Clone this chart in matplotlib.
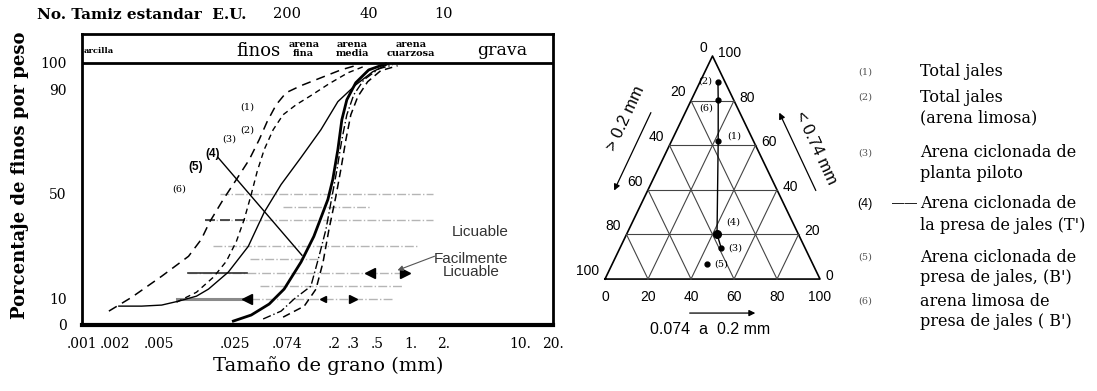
import matplotlib.pyplot as plt

W, H = 1097, 391
SERIF = 'DejaVu Serif'
SANS = 'Liberation Sans'

# ---- grain size curves: size (mm) vs percent finer by weight ----
size_1 = [0.00176, 0.00285, 0.00534, 0.00939, 0.0123, 0.0146, 0.0195, 0.0257, 0.0337,
          0.0415, 0.0491, 0.0593, 0.073, 0.100, 0.152, 0.231, 0.330]
pct_1 = [5.3, 10.6, 18.6, 26.2, 32.7, 39.2, 47.9, 55.5, 63.1, 70.7, 77.6, 84.0, 88.6,
         91.3, 94.3, 97.3, 99.2]
size_2 = [0.0073, 0.0111, 0.0159, 0.0208, 0.0257, 0.0303, 0.0351, 0.0398, 0.0461, 0.0557,
          0.0686, 0.0901, 0.123, 0.180, 0.268, 0.390]
pct_2 = [8.7, 12.5, 18.3, 24.3, 31.9, 40.3, 49.8, 58.6, 66.9, 74.5, 80.2, 84.0, 87.5,
         92.0, 96.2, 98.9]
size_3 = [0.00217, 0.00351, 0.00534, 0.00762, 0.0111, 0.0143, 0.0217, 0.0330, 0.0461,
          0.0658, 0.100, 0.152, 0.217, 0.316, 0.451, 0.631]
pct_3 = [7.2, 7.2, 7.6, 9.1, 11.0, 13.7, 20.2, 30.0, 43.0, 53.6, 63.9, 74.5, 85.2, 91.6,
         96.6, 99.6]
size_4 = [0.0241, 0.0351, 0.0512, 0.0701, 0.100, 0.131, 0.176, 0.195, 0.217, 0.236, 0.262,
          0.316, 0.415, 0.593]
pct_4 = [1.5, 3.8, 8.0, 13.7, 24.0, 33.8, 47.9, 55.5, 66.9, 78.3, 85.9, 92.4, 97.3, 99.6]
size_5 = [0.0451, 0.0658, 0.0864, 0.123, 0.146, 0.169, 0.195, 0.213, 0.236, 0.262, 0.303,
          0.374, 0.512, 0.686]
pct_5 = [2.3, 5.3, 9.9, 14.8, 26.2, 36.5, 50.6, 59.3, 70.7, 80.2, 87.8, 93.5, 97.7, 99.2]
size_6 = [0.0686, 0.107, 0.137, 0.159, 0.180, 0.208, 0.231, 0.257, 0.285, 0.330, 0.406,
          0.534, 0.762]
pct_6 = [3.0, 7.2, 13.7, 24.0, 36.5, 49.0, 59.3, 70.7, 80.2, 87.1, 92.8, 97.0, 98.9]

curve_names = ['(1)', '(2)', '(3)', '(4)', '(5)', '(6)']
name_size = [0.0321, 0.0321, 0.0220, 0.0157, 0.0110, 0.00769]
name_pct = [83.3, 74.5, 71.1, 65.4, 60.1, 51.7]

# liquefaction limit lines (percent, from size, to size)
band_pct = [50, 45, 40, 30, 25, 20, 15, 10]
band_from = [0.0182, 0.0686, 0.0133, 0.0157, 0.0342, 0.0093, 0.0423, 0.00738]
band_to = [1.60, 0.427, 1.62, 1.17, 0.149, 0.93, 0.85, 0.69]

x_ticks = [0.001, 0.002, 0.005, 0.025, 0.074, 0.2, 0.3, 0.5, 1, 2, 10, 20]
x_labels = ['.001', '.002', '.005', '.025', '.074', '.2', '.3', '.5', '1.', '2.', '10.', '20.']
y_ticks = [0, 10, 50, 90, 100]
sieve_size = [0.074, 0.42, 2.0]
sieve_no = ['200', '40', '10']

# ---- ternary: fines (<0.074), medium (0.074-0.2), rest (>0.2) in percent ----
tern_fine = [61.9, 88.3, 13.9, 20.2, 6.7, 80.3]
tern_medium = [21.7, 8.4, 47.1, 42.0, 44.1, 12.5]
tern_ticks = [0, 20, 40, 60, 80, 100]

legend_first = ['Total jales', 'Total jales', 'Arena ciclonada de', 'Arena ciclonada de',
                'Arena ciclonada de', 'arena limosa de']
legend_second = ['', '(arena limosa)', 'planta piloto', "la presa de jales (T')",
                 "presa de jales, (B')", "presa de jales ( B')"]

fig = plt.figure(figsize=(W / 100, H / 100), dpi=100)


def fx(px):
    return px / W


def fy(py):
    return 1 - py / H


## Grain size chart
ax = fig.add_axes([fx(82), fy(325), (553 - 82) / W, (325 - 34) / H])
ax.set_xscale('log')
ax.set_xlim(0.001, 20)
ax.set_ylim(0, 111)
for s in ['left', 'right', 'top']:
    ax.spines[s].set_linewidth(2)
ax.spines['bottom'].set_linewidth(3)
ax.axhline(100, color='k', lw=2)

ax.set_xticks(x_ticks)
ax.set_xticklabels(x_labels)
ax.minorticks_off()
ax.set_yticks(y_ticks)
ax.set_yticklabels([str(v) for v in y_ticks])
ax.tick_params(length=0, labelsize=10)
ax.tick_params(axis='x', pad=9)
ax.tick_params(axis='y', pad=11)
for lab in ax.get_xticklabels() + ax.get_yticklabels():
    lab.set_fontfamily(SERIF)

for p, a, b in zip(band_pct, band_from, band_to):
    ax.plot([a, b], [p, p], color='#b5b5b5', lw=1, ls='-.')
ax.plot([band_from[5], 0.032], [20, 20], color='#333333', lw=1.2)
ax.plot([band_from[2], 0.032], [40, 40], color='#333333', lw=1.2, ls=(0, (6, 3)))
ax.plot([band_from[7], 0.032], [10, 10], color='#8a8a8a', lw=2.2)
ax.plot([0.032], [10], marker='<', color='k', ms=7)
ax.plot([0.159], [10], marker='<', color='k', ms=5)
ax.plot([0.299], [10], marker='>', color='k', ms=6)
ax.plot([0.427], [20], marker='<', color='k', ms=7)
ax.plot([0.89], [20], marker='>', color='k', ms=7)

sizes = [size_1, size_2, size_3, size_4, size_5, size_6]
pcts = [pct_1, pct_2, pct_3, pct_4, pct_5, pct_6]
styles = [((0, (6, 4)), 1.1), ((0, (4, 3)), 1.0), ('-', 1.0), ('-', 2.0),
          ((0, (6, 2, 1, 2)), 1.0), ((0, (5, 3)), 1.1)]
for sx, py, (ls, lw) in zip(sizes, pcts, styles):
    ax.plot(sx, py, color='k', ls=ls, lw=lw)

ax.plot([0.01746, 0.102], [63.9, 26.6], color='k', lw=1)
for i, name in enumerate(curve_names):
    big = name in ('(4)', '(5)')
    ax.text(name_size[i], name_pct[i], name, fontsize=8.5 if big else 7,
            fontweight='bold' if big else 'normal',
            family=SANS if big else SERIF, ha='center', va='center')

ax.text(4.3, 35.4, 'Licuable', fontsize=11, family=SANS, color='#333333',
        ha='center', va='center')
ax.text(3.6, 22.8, 'Facilmente\nLicuable', fontsize=11, family=SANS, color='#333333',
        ha='center', va='center', linespacing=0.95)
ax.annotate('', xy=(0.72, 20.5), xytext=(1.75, 26.6),
            arrowprops=dict(arrowstyle='-|>', color='#555555', lw=0.8,
                            mutation_scale=8))

# header band
ax.text(0.00104, 104.5, 'arcilla', fontsize=6, fontweight='bold', family=SERIF,
        ha='left', va='center')
ax.text(0.0404, 104.6, 'finos', fontsize=13, family=SERIF, ha='center', va='center')
ax.text(6.85, 104.6, 'grava', fontsize=12.5, family=SERIF, ha='center', va='center')
for xs, lab in zip([0.106, 0.292, 1.01], ['arena\nfina', 'arena\nmedia', 'arena\ncuarzosa']):
    ax.text(xs, 105.3, lab, fontsize=7, fontweight='bold', family=SERIF,
            ha='center', va='center', linespacing=0.9)

xtr = ax.get_xaxis_transform()
for xs, lab in zip(sieve_size, sieve_no):
    ax.text(xs, 1.068, lab, transform=xtr, fontsize=10.5, family=SERIF,
            ha='center', va='center')
fig.text(fx(37), fy(15), 'No. Tamiz estandar  E.U.', fontsize=11, fontweight='bold',
         family=SERIF, ha='left', va='center')

fig.text(fx(20), fy(175), 'Porcentaje de finos por peso', rotation=90, fontsize=13,
         fontweight='bold', family=SERIF, ha='center', va='center')
fig.text(fx(328), fy(366), 'Tamaño de grano (mm)', fontsize=14, family=SERIF,
         ha='center', va='center')

## Ternary diagram
tx = fig.add_axes([fx(575), fy(345), 275 / W, 315 / H])
tx.set_xlim(-13.95, 113.95)
tx.set_ylim(-25.6, 96.7)
tx.axis('off')
h = 0.866
tx.plot([0, 100, 50, 0], [0, 0, 100 * h, 0], color='k', lw=1.2)
for v in tern_ticks[1:-1]:
    tx.plot([0.5 * v, 100 - 0.5 * v], [h * v, h * v], color='#444444', lw=0.8)
    tx.plot([v, v + 0.5 * (100 - v)], [0, h * (100 - v)], color='#444444', lw=0.8)
    tx.plot([100 - v, 0.5 * (100 - v)], [0, h * (100 - v)], color='#444444', lw=0.8)

for v in tern_ticks:
    # left side: coarse fraction, 0 at apex
    tx.text(0.5 * (100 - v) - 2.5, h * (100 - v) + 0.5, str(v), fontsize=10, family=SANS,
            ha='right', va='bottom')
    # right side: fines, 100 at apex
    tx.text(100 - 0.5 * v + 2.5, h * v + 1.2, str(v), fontsize=10, family=SANS,
            ha='left', va='center')
    # base: medium sand
    tx.text(v, -7.0, str(v), fontsize=10, family=SANS, ha='center', va='center')

pts_x = [m + 0.5 * f for f, m in zip(tern_fine, tern_medium)]
pts_y = [h * f for f in tern_fine]
order = [1, 5, 0, 3, 2]
tx.plot([pts_x[i] for i in order], [pts_y[i] for i in order], color='k', lw=1)
tx.plot(pts_x, pts_y, 'o', color='k', ms=3.5)
tx.plot([pts_x[3]], [pts_y[3]], 'o', color='k', ms=5.5)
lab_dx = [4, -2.5, 3.5, 4.5, 3.5, -2.5]
lab_dy = [2, 0.5, 0, 4.5, 0, -3]
for i, name in enumerate(curve_names):
    tx.text(pts_x[i] + lab_dx[i], pts_y[i] + lab_dy[i], name, fontsize=7, family=SERIF,
            ha='left' if lab_dx[i] > 0 else 'right', va='center')

tx.text(9.8, 62.5, '> 0.2 mm', rotation=65, fontsize=12, family=SANS,
        ha='center', va='center', rotation_mode='anchor')
tx.annotate('', xy=(3.7, 33.4), xytext=(21.9, 65.6),
            arrowprops=dict(arrowstyle='-|>', color='k', lw=0.9, mutation_scale=9))
tx.text(98.2, 50.9, '< 0.74 mm', rotation=-65, fontsize=12, family=SANS,
        ha='center', va='center', rotation_mode='anchor')
tx.annotate('', xy=(80.5, 65.6), xytext=(98.6, 33.4),
            arrowprops=dict(arrowstyle='-|>', color='k', lw=0.9, mutation_scale=9))
tx.annotate('', xy=(71.2, -13.2), xytext=(38.1, -13.2),
            arrowprops=dict(arrowstyle='-|>', color='k', lw=0.9, mutation_scale=9))
tx.text(48.8, -19.5, '0.074  a  0.2 mm', fontsize=11.5, family=SANS, ha='center',
        va='center')

## Legend
num_y = [72, 97, 153, 204, 257, 301]
for i, name in enumerate(curve_names):
    if name == '(4)':
        fig.text(fx(857), fy(num_y[i]), '(4)', fontsize=9, family=SANS,
                 ha='left', va='center')
        fig.text(fx(892), fy(num_y[i]), '——', fontsize=9, family=SANS,
                 ha='left', va='center')
    else:
        fig.text(fx(858), fy(num_y[i]), name, fontsize=7, family=SERIF, color='#555555',
                 ha='left', va='center')
    fig.text(fx(920), fy(num_y[i]), legend_first[i], fontsize=11.5, family=SERIF,
             ha='left', va='center')
    if legend_second[i]:
        fig.text(fx(920), fy(num_y[i] + 21), legend_second[i], fontsize=11.5, family=SERIF,
                 ha='left', va='center')

fig.savefig('out.png', dpi=100)
